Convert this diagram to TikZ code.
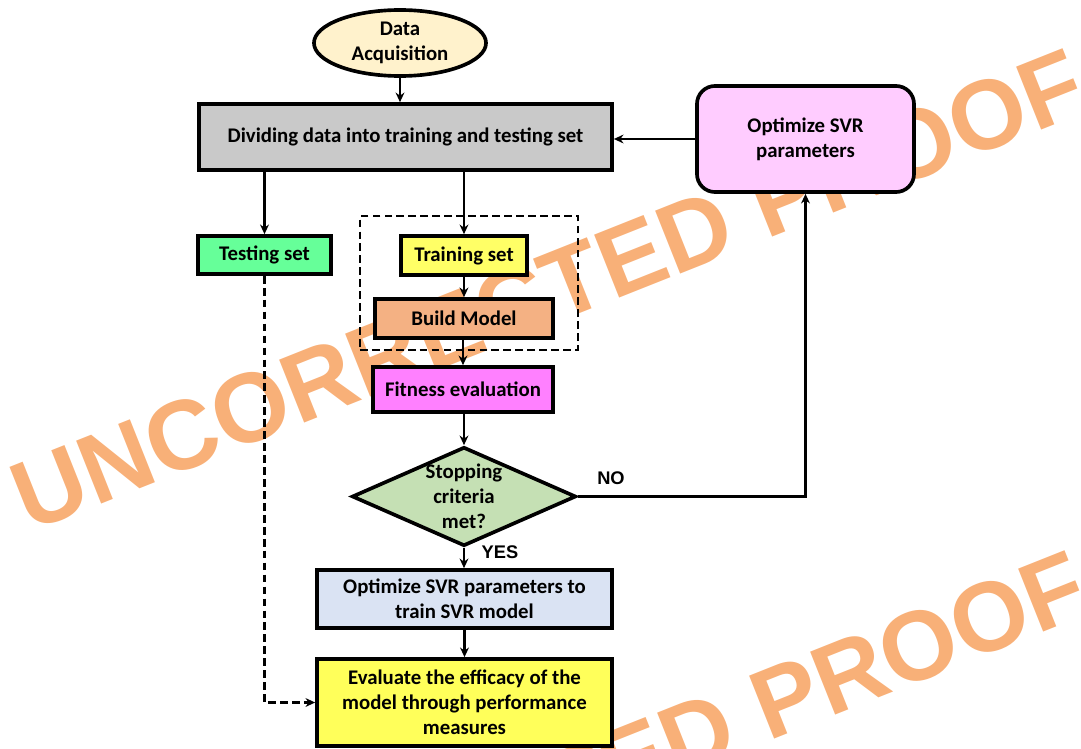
\documentclass[tikz,border=0pt]{standalone}
\usepackage{fontspec}
\setmainfont{Carlito}
\newfontfamily\arialfont{Liberation Sans}
\usetikzlibrary{shapes.geometric, arrows.meta}

\definecolor{wmark}{RGB}{248,176,120}
\definecolor{acqcol}{RGB}{255,242,204}
\definecolor{divcol}{RGB}{201,201,201}
\definecolor{optcol}{RGB}{255,204,255}
\definecolor{testcol}{RGB}{102,255,153}
\definecolor{traincol}{RGB}{255,255,102}
\definecolor{buildcol}{RGB}{244,177,131}
\definecolor{fitcol}{RGB}{255,128,255}
\definecolor{stopcol}{RGB}{197,224,180}
\definecolor{svrcol}{RGB}{218,227,243}
\definecolor{evalcol}{RGB}{255,255,90}

\tikzset{
  txt/.style={font=\bfseries\fontsize{14.8}{17.8}\selectfont, align=center},
  box/.style={txt, draw, line width=2.6pt, inner sep=0pt},
  conn/.style={->, line width=1.5pt},
  dashline/.style={line width=1.5pt, dash pattern=on 5.5pt off 3pt},
  wmtext/.style={text=wmark, rotate=21.7, font=\arialfont\bfseries\fontsize{70}{70}\selectfont},
}

\begin{document}
\begin{tikzpicture}[>={Stealth[length=2.4mm, width=2.2mm]}, x=0.025cm, y=-0.025cm]
    \useasboundingbox (0, 0) rectangle (1081, 749);

    % watermark
    \begin{scope}
      \clip (0, 0) rectangle (1081, 749);
      \node[wmtext] (wm1) at (548, 290) {UNCORRECTED PROOF};
      \node[wmtext] (wm2) at (550, 792) {UNCORRECTED PROOF};
    \end{scope}

    % boxes
    \node[box, ellipse, fill=acqcol, minimum width=4.3cm, minimum height=1.65cm] (acq) at (400, 43) {Data\\Acquisition};
    \node[box, fill=divcol, minimum width=10.325cm, minimum height=1.65cm] (divide) at (405.5, 137) {Dividing data into training and testing set};
    \node[box, fill=optcol, rounded corners=0.45cm, minimum width=5.425cm, minimum height=2.65cm] (optim) at (805.5, 139) {Optimize SVR\\parameters};
    \node[box, fill=testcol, minimum width=3.325cm, minimum height=0.95cm] (test) at (264.5, 255) {Testing set};
    \node[draw, dashline, minimum width=5.45cm, minimum height=3.35cm] (group) at (469, 283) {};
    \node[box, fill=traincol, minimum width=3.15cm, minimum height=0.975cm] (train) at (464, 255.5) {Training set};
    \node[box, fill=buildcol, minimum width=4.45cm, minimum height=0.975cm] (build) at (464, 318.5) {Build Model};
    \node[box, fill=fitcol, minimum width=4.5cm, minimum height=1.125cm] (fit) at (463, 389.5) {Fitness evaluation};
    \node[draw, diamond, fill=stopcol, line width=2.6pt, inner sep=0pt, minimum width=5.6cm, minimum height=2.475cm] (stop) at (464, 496.5) {};
    \node[txt] (stoptxt) at (stop) {Stopping\\criteria\\met?};
    \node[box, fill=svrcol, minimum width=7.375cm, minimum height=1.45cm] (svr) at (464.5, 599) {Optimize SVR parameters to\\train SVR model};
    \node[box, fill=evalcol, minimum width=7.375cm, minimum height=2.175cm] (eval) at (464.5, 702.5) {Evaluate the efficacy of the\\model through performance\\measures};

    % connectors
    \draw[conn] (acq) -- (acq |- divide.north);
    \draw[conn] (optim.west) -- (optim.west -| divide.east);
    \draw[conn] (test.north |- divide.south) -- (test.north);
    \draw[conn] (train.north |- divide.south) -- (train.north);
    \draw[conn] (train) -- (build);
    \draw[conn] (build.south -| fit.north) -- (fit.north);
    \draw[conn] (fit.south -| stop.north) -- (stop.north);
    \draw[conn] (stop.east) -- (optim.south |- stop.east) -- (optim.south);
    \draw[conn] (stop.south) -- (stop.south |- svr.north);
    \draw[conn] (svr.south -| eval.north) -- (eval.north);
    \draw[conn, dashline] (test.south) -- (test.south |- eval.west) -- (eval.west);

    \node[font=\arialfont\bfseries\fontsize{13}{13}\selectfont] (no) at (611, 478) {NO};
    \node[font=\arialfont\bfseries\fontsize{13}{13}\selectfont] (yes) at (500, 552) {YES};
  \end{tikzpicture}
\end{document}
